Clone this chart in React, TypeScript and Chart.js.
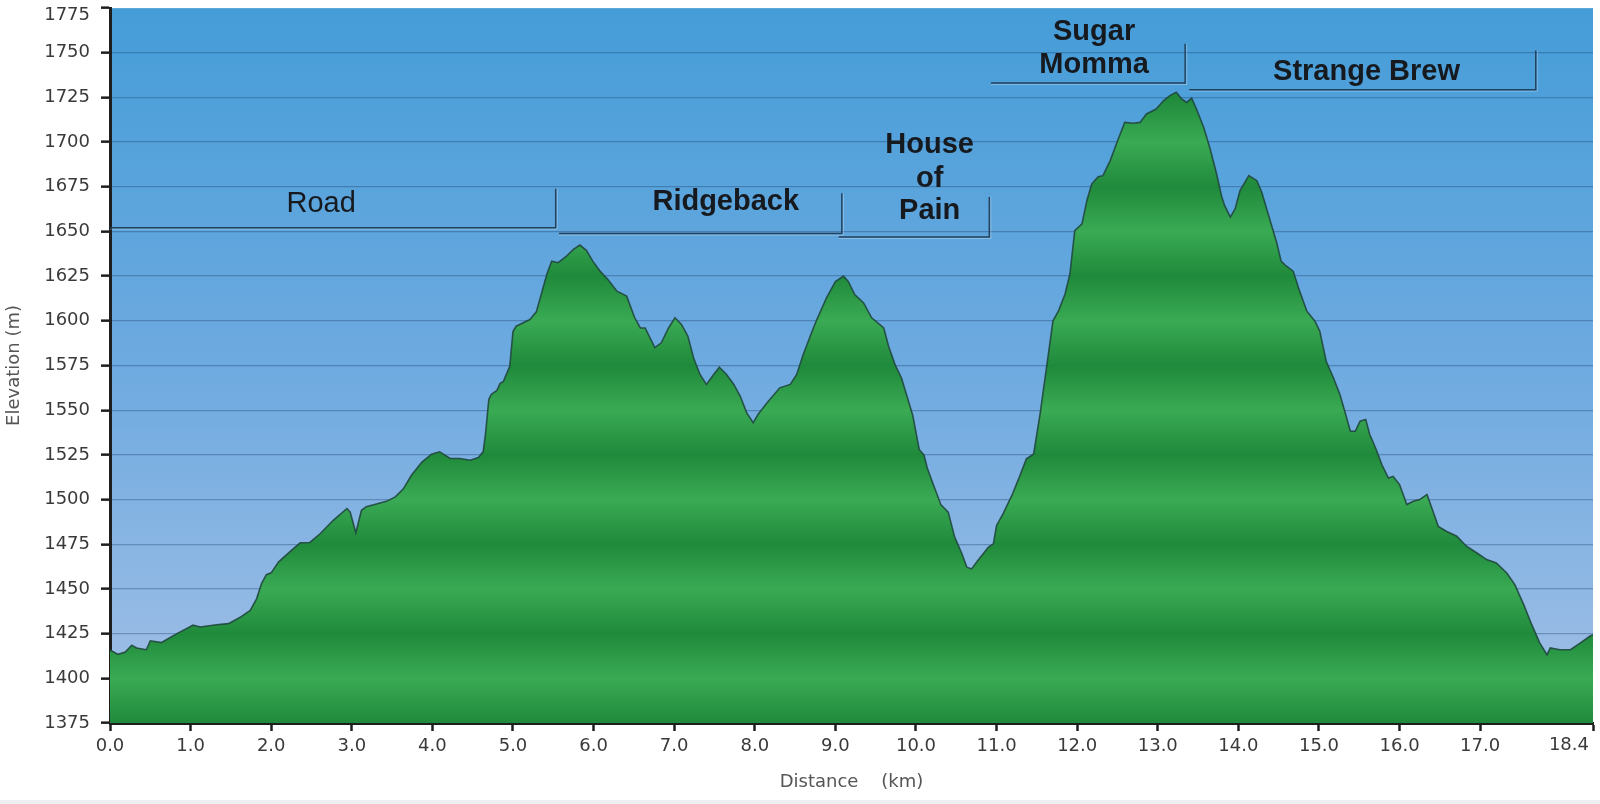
import React, { useEffect, useRef } from 'react';
import { Chart, registerables } from 'chart.js';

Chart.register(...registerables);

// ---------- DATA ----------
const DISTANCE_KM = [
  0.0, 0.1, 0.19, 0.27, 0.33, 0.45, 0.5, 0.64, 0.83, 1.03, 1.12, 1.32, 1.47, 1.61, 1.74, 1.82, 1.88, 1.94, 2.0,
  2.09, 2.23, 2.36, 2.48, 2.61, 2.77, 2.94, 2.98, 3.05, 3.12, 3.18, 3.43, 3.54, 3.64, 3.74, 3.87, 3.99, 4.09,
  4.22, 4.34, 4.47, 4.57, 4.63, 4.66, 4.7, 4.73, 4.8, 4.84, 4.88, 4.96, 5.0, 5.04, 5.21, 5.29, 5.35, 5.42, 5.48,
  5.56, 5.66, 5.75, 5.83, 5.91, 5.99, 6.08, 6.18, 6.29, 6.41, 6.51, 6.58, 6.64, 6.76, 6.84, 6.93, 7.01, 7.09,
  7.17, 7.24, 7.32, 7.4, 7.49, 7.56, 7.65, 7.74, 7.82, 7.9, 7.98, 8.04, 8.15, 8.31, 8.44, 8.52, 8.6, 8.71, 8.77,
  8.89, 9.0, 9.1, 9.16, 9.24, 9.35, 9.45, 9.6, 9.66, 9.74, 9.82, 9.88, 9.96, 10.04, 10.1, 10.14, 10.21, 10.31,
  10.4, 10.48, 10.57, 10.63, 10.69, 10.77, 10.9, 10.96, 11.0, 11.08, 11.19, 11.29, 11.37, 11.46, 11.54, 11.62,
  11.7, 11.77, 11.85, 11.91, 11.97, 12.06, 12.12, 12.18, 12.26, 12.32, 12.41, 12.51, 12.59, 12.7, 12.78, 12.86,
  12.98, 13.07, 13.15, 13.23, 13.3, 13.36, 13.42, 13.48, 13.57, 13.65, 13.73, 13.79, 13.83, 13.9, 13.96, 14.02,
  14.13, 14.23, 14.29, 14.37, 14.48, 14.53, 14.58, 14.68, 14.76, 14.85, 14.95, 15.01, 15.09, 15.18, 15.26,
  15.32, 15.39, 15.45, 15.51, 15.58, 15.63, 15.71, 15.78, 15.86, 15.92, 16.0, 16.09, 16.17, 16.25, 16.34,
  16.4, 16.48, 16.58, 16.71, 16.83, 16.96, 17.08, 17.2, 17.33, 17.43, 17.54, 17.64, 17.74, 17.83, 17.87,
  17.99, 18.12, 18.24, 18.36, 18.4,
];

const ELEVATION_M = [
  1415.8, 1413.4, 1414.7, 1418.5, 1417, 1416, 1421, 1420, 1425, 1429.7, 1428.7, 1430, 1430.6, 1434, 1438, 1444.6, 1453, 1458, 1459,
  1465, 1470.7, 1475.8, 1476, 1481, 1488.4, 1495, 1493, 1481.4, 1494, 1496, 1499, 1501.5, 1506, 1513.6, 1521, 1525.4, 1526.7,
  1523, 1523, 1522, 1523.5, 1526.7, 1537, 1556, 1558.8, 1561, 1565, 1566, 1574.6, 1594, 1597, 1600.7, 1605, 1614.7, 1626, 1633.4,
  1632.5, 1636, 1640, 1642.4, 1639.4, 1633.4, 1627.8, 1623, 1616.6, 1613.8, 1601.7, 1596, 1596, 1585, 1587.7, 1596, 1601.7, 1598,
  1591.4, 1579.3, 1570, 1564.4, 1570, 1574, 1570, 1564.4, 1557.8, 1548.5, 1543, 1547.6, 1554, 1562.5, 1564.4, 1570, 1581, 1594, 1600.7,
  1612.9, 1622, 1625, 1622, 1614.7, 1610, 1601.7, 1596, 1585.8, 1575.5, 1568, 1559, 1547, 1528, 1524.8, 1517.7, 1509, 1497,
  1493, 1479, 1469.7, 1462.2, 1461.2, 1466, 1473.4, 1475.2, 1485.5, 1492, 1502.3, 1513.4, 1522.8, 1525.5, 1548, 1574,
  1600, 1605.7, 1615, 1626.2, 1650.4, 1654.2, 1667.2, 1676.5, 1680.6, 1681.2, 1689.6, 1701.7, 1711, 1710.5, 1711, 1715.7,
  1718.5, 1723.1, 1726, 1727.8, 1724, 1722.2, 1724.6, 1718.5, 1708.2, 1696.1, 1682.1, 1670, 1664.4, 1658, 1662.6, 1672.8,
  1681.2, 1678.4, 1671.9, 1659.8, 1643, 1633.4, 1631.2, 1627.8, 1616.6, 1605.4, 1599.8, 1594.2, 1577.4, 1568, 1558.8,
  1549.4, 1538.2, 1538.2, 1543.8, 1544.8, 1536.4, 1528, 1519.6, 1512.1, 1513, 1508.4, 1497.2, 1499, 1500, 1502.8,
  1495.3, 1485, 1482.3, 1479.5, 1473.9, 1470.1, 1466.4, 1464.5, 1458.9, 1452.4, 1441.2, 1430, 1419.7, 1413.2, 1417,
  1416, 1416, 1419.7, 1423.5, 1424.4,
];

const Y_MIN = 1375;
const Y_MAX = 1775;
const Y_STEP = 25;
const X_MIN = 0;
const X_MAX = 18.4;
const X_TICKS = [0, 1, 2, 3, 4, 5, 6, 7, 8, 9, 10, 11, 12, 13, 14, 15, 16, 17, 18.4];

const X_TITLE = 'Distance    (km)';
const Y_TITLE = 'Elevation (m)';

// Course sections
const SEGMENT_LABEL_LINES = [['Road'], ['Ridgeback'], ['House', 'of', 'Pain'], ['Sugar', 'Momma'], ['Strange Brew']];
const SEGMENT_START_KM = [0, 5.57, 9.04, 10.93, 13.39];
const SEGMENT_END_KM = [5.53, 9.08, 10.91, 13.34, 17.69];

// ---------- LAYOUT / STYLE (annotation placement in data units) ----------
const SEG_BOLD = [false, true, true, true, true];
const SEG_TEXT_KM = [2.62, 7.64, 10.17, 12.21, 15.59];
const SEG_TEXT_ELEV = [[1665.6], [1666.4], [1698.1, 1679.5, 1661.3], [1761.5, 1742.9], [1739.1]];
const SEG_LINE_ELEV = [1652.1, 1648.8, 1646.9, 1733.0, 1729.3];
const SEG_CAP_ELEV = [1673.9, 1671.3, 1669.2, 1755.0, 1751.2];

const TICK_FONT = "'DejaVu Sans', Verdana, sans-serif";
const LABEL_FONT = "'Liberation Sans', Arial, sans-serif";
const TICK_COLOR = '#3a3a3a';
const TITLE_COLOR = '#555555';
const AXIS_COLOR = '#1e1e1e';
const GREEN_LIGHT = '#3aaa54';
const GREEN_DARK = '#1f8a3b';
const Y_TICK_LEN = 9;
const Y_TICK_PAD = 11;
const X_TICK_LEN = 8;
const X_TICK_PAD = 5;

const skyPlugin = {
  id: 'sky',
  beforeDraw(chart: any) {
    const { ctx, chartArea } = chart;
    if (!chartArea) return;
    const g = ctx.createLinearGradient(0, chartArea.top, 0, chartArea.bottom);
    g.addColorStop(0, '#459dd8');
    g.addColorStop(0.5, '#6eaae0');
    g.addColorStop(1, '#a3c0e6');
    ctx.save();
    ctx.fillStyle = g;
    ctx.fillRect(chartArea.left, chartArea.top, chartArea.right - chartArea.left, chartArea.bottom - chartArea.top);
    ctx.restore();
  },
};

const annotationPlugin = {
  id: 'segments',
  afterDraw(chart: any) {
    const { ctx } = chart;
    const xs = chart.scales.x;
    const ys = chart.scales.y;
    ctx.save();
    // edge tick labels (shifted inside like the reference)
    ctx.font = `18px ${TICK_FONT}`;
    ctx.fillStyle = TICK_COLOR;
    ctx.textAlign = 'right';
    ctx.textBaseline = 'middle';
    ctx.fillText(String(Y_MAX), ys.right - Y_TICK_LEN - Y_TICK_PAD, ys.getPixelForValue(Y_MAX) + 7);
    ctx.textBaseline = 'top';
    ctx.fillText(X_MAX.toFixed(1), xs.getPixelForValue(X_MAX) - 4, xs.top + X_TICK_LEN + X_TICK_PAD);

    // section brackets
    for (let i = 0; i < SEGMENT_LABEL_LINES.length; i++) {
      const x0 = xs.getPixelForValue(SEGMENT_START_KM[i]);
      const x1 = xs.getPixelForValue(SEGMENT_END_KM[i]);
      const yl = ys.getPixelForValue(SEG_LINE_ELEV[i]);
      const yc = ys.getPixelForValue(SEG_CAP_ELEV[i]);
      ctx.strokeStyle = 'rgba(255,255,255,0.28)';
      ctx.lineWidth = 1;
      ctx.beginPath();
      ctx.moveTo(x1 + 1.5, yc);
      ctx.lineTo(x1 + 1.5, yl + 1.5);
      ctx.lineTo(x0, yl + 1.5);
      ctx.stroke();
      ctx.strokeStyle = 'rgba(30,55,80,0.9)';
      ctx.lineWidth = 1.5;
      ctx.beginPath();
      ctx.moveTo(x1, yc);
      ctx.lineTo(x1, yl);
      ctx.lineTo(x0, yl);
      ctx.stroke();

      ctx.font = `${SEG_BOLD[i] ? 'bold ' : ''}29px ${LABEL_FONT}`;
      ctx.fillStyle = '#161a1f';
      ctx.textAlign = 'center';
      ctx.textBaseline = 'middle';
      const tx = xs.getPixelForValue(SEG_TEXT_KM[i]);
      SEGMENT_LABEL_LINES[i].forEach((line, j) => {
        ctx.fillText(line, tx, ys.getPixelForValue(SEG_TEXT_ELEV[i][j]));
      });
    }
    ctx.restore();
  },
};

export default function App() {
  const canvasRef = useRef<HTMLCanvasElement>(null);

  useEffect(() => {
    const canvas = canvasRef.current;
    if (!canvas) return;
    const points = DISTANCE_KM.map((x, i) => ({ x, y: ELEVATION_M[i] }));
    const chart = new Chart(canvas, {
      type: 'line',
      data: {
        datasets: [
          {
            data: points,
            fill: 'start',
            borderColor: 'rgba(32,72,62,0.9)',
            borderWidth: 1.6,
            pointRadius: 0,
            tension: 0,
            backgroundColor: (c: any) => {
              const ch = c.chart;
              const area = ch.chartArea;
              const ys = ch.scales && ch.scales.y;
              if (!area || !ys) return GREEN_DARK;
              const h = area.bottom - area.top;
              const g = ch.ctx.createLinearGradient(0, area.top, 0, area.bottom);
              for (let v = Y_MAX; v >= Y_MIN; v -= Y_STEP) {
                const p = Math.min(1, Math.max(0, (ys.getPixelForValue(v) - area.top) / h));
                g.addColorStop(p, v % 50 === 0 ? GREEN_LIGHT : GREEN_DARK);
              }
              return g;
            },
          },
        ],
      },
      options: {
        animation: false,
        responsive: false,
        devicePixelRatio: 1,
        events: [],
        layout: { padding: { top: 8, right: 7, left: 0, bottom: 0 } },
        plugins: { legend: { display: false }, tooltip: { enabled: false } },
        scales: {
          x: {
            type: 'linear',
            min: X_MIN,
            max: X_MAX,
            z: 1,
            afterBuildTicks: (scale: any) => {
              scale.ticks = X_TICKS.map((v) => ({ value: v }));
            },
            afterFit: (scale: any) => {
              scale.height = 77;
              scale.paddingLeft = 0;
              scale.paddingRight = 0;
            },
            grid: {
              drawOnChartArea: false,
              drawTicks: true,
              tickLength: X_TICK_LEN,
              tickColor: AXIS_COLOR,
              tickWidth: 2.5,
            },
            border: { display: true, color: AXIS_COLOR, width: 3 },
            ticks: {
              autoSkip: false,
              maxRotation: 0,
              padding: X_TICK_PAD,
              color: TICK_COLOR,
              font: { family: TICK_FONT, size: 18 },
              callback: (v: any) => (Number(v) === X_MAX ? '' : Number(v).toFixed(1)),
            },
            title: {
              display: true,
              text: X_TITLE,
              color: TITLE_COLOR,
              font: { family: TICK_FONT, size: 18 },
              padding: { top: 13, bottom: 7 },
            },
          },
          y: {
            type: 'linear',
            min: Y_MIN,
            max: Y_MAX,
            z: 1,
            afterFit: (scale: any) => {
              scale.width = 110;
              scale.paddingTop = 0;
              scale.paddingBottom = 0;
            },
            grid: {
              color: (c: any) => (c.tick && c.tick.value === Y_MAX ? 'rgba(255,255,255,0.5)' : 'rgba(20,55,100,0.33)'),
              lineWidth: 1.3,
              drawTicks: true,
              tickLength: Y_TICK_LEN,
              tickColor: AXIS_COLOR,
              tickWidth: 2.5,
            },
            border: { display: true, color: AXIS_COLOR, width: 3 },
            ticks: {
              stepSize: Y_STEP,
              autoSkip: false,
              padding: Y_TICK_PAD,
              color: TICK_COLOR,
              font: { family: TICK_FONT, size: 18 },
              callback: (v: any) => (Number(v) === Y_MAX ? '' : String(v)),
            },
            title: {
              display: true,
              text: Y_TITLE,
              color: TITLE_COLOR,
              font: { family: TICK_FONT, size: 18 },
              padding: { top: 4, bottom: 8 },
            },
          },
        },
      },
      plugins: [skyPlugin, annotationPlugin],
    } as any);
    return () => chart.destroy();
  }, []);

  return (
    <div style={{ position: 'absolute', left: 0, top: 0, width: 1600, height: 804, background: '#ffffff' }}>
      <canvas ref={canvasRef} width={1600} height={800} style={{ display: 'block', width: 1600, height: 800 }} />
      <div style={{ height: 4, background: '#eceef1' }} />
    </div>
  );
}
